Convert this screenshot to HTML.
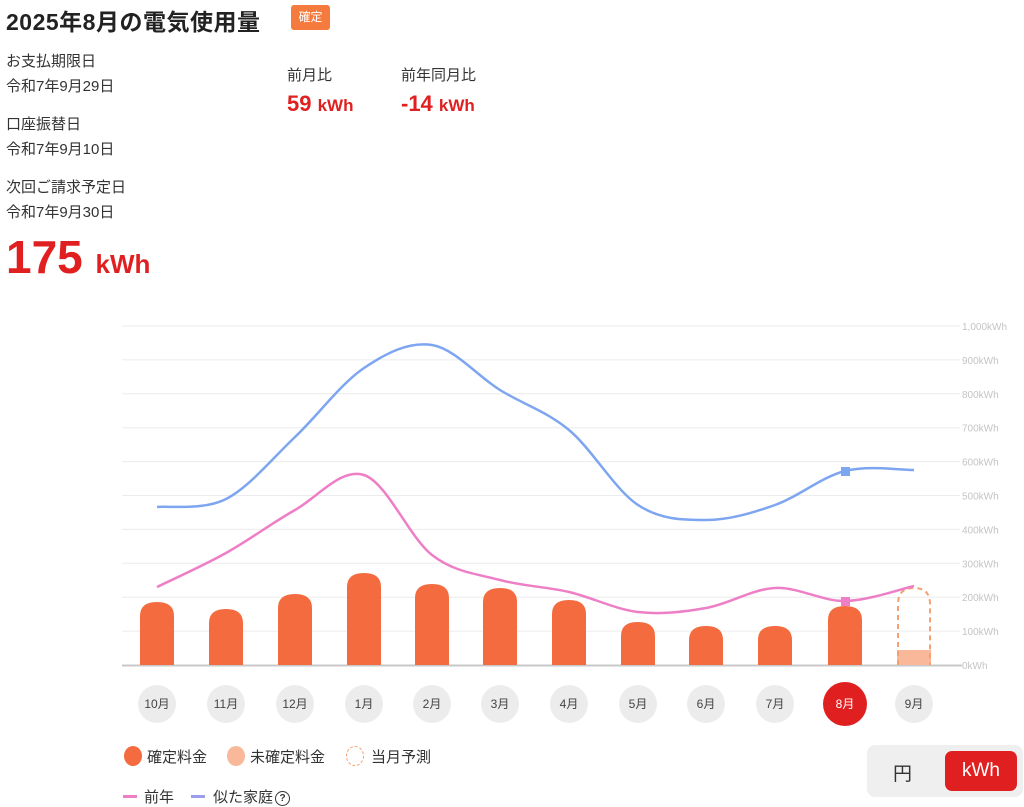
<!DOCTYPE html>
<html><head><meta charset="utf-8"><style>
body{margin:0;width:1024px;height:807px;background:#fff;font-family:"Liberation Sans","Noto Sans CJK JP",sans-serif;color:#333;position:relative;overflow:hidden}
.a{position:absolute;white-space:nowrap}
.s{font-size:15px;color:#333}
.red{color:#e02020;font-weight:bold}
</style></head><body>
<div class="a" style="left:6px;top:3px;font-size:23px;font-weight:bold;color:#222;letter-spacing:0.5px">2025年8月の電気使用量</div>
<div class="a" style="left:291px;top:5px;width:39px;height:25px;background:#f47a3e;border-radius:3px;color:#fff;font-size:12px;line-height:25px;text-align:center">確定</div>
<div class="a s" style="left:6px;top:50px">お支払期限日</div>
<div class="a s" style="left:6px;top:75px">令和7年9月29日</div>
<div class="a s" style="left:6px;top:113px">口座振替日</div>
<div class="a s" style="left:6px;top:138px">令和7年9月10日</div>
<div class="a s" style="left:6px;top:176px">次回ご請求予定日</div>
<div class="a s" style="left:6px;top:201px">令和7年9月30日</div>
<div class="a red" style="left:6px;top:230px;font-size:46px">175 <span style="font-size:26px">kWh</span></div>
<div class="a s" style="left:287px;top:64px">前月比</div>
<div class="a s" style="left:401px;top:64px">前年同月比</div>
<div class="a red" style="left:287px;top:91px;font-size:22px">59 <span style="font-size:17px">kWh</span></div>
<div class="a red" style="left:401px;top:91px;font-size:22px">-14 <span style="font-size:17px">kWh</span></div>

<svg class="a" style="left:0;top:0" width="1024" height="807" id="c">
<g id="grid" stroke="#ececec" stroke-width="1"></g>
<g id="lab" font-size="10" fill="#c4c4c4" font-family="Liberation Sans,sans-serif"></g>
<line x1="122" y1="665.5" x2="962" y2="665.5" stroke="#c8c8c8" stroke-width="2"/>
<g id="bars"></g>
<path id="blue" fill="none" stroke="#7ea6f0" stroke-width="2.5"/>
<path id="pink" fill="none" stroke="#ee7fc6" stroke-width="2.5"/>
<rect x="841" y="467" width="9" height="9" fill="#7ea6f0"/>
<rect x="841" y="597" width="9" height="9" fill="#ee7fc6"/>
<g id="mon" font-size="12" font-family="Liberation Sans,'Noto Sans CJK JP',sans-serif"></g>
</svg>

<div class="a" style="left:124px;top:746px;width:18px;height:20px;border-radius:50%;background:#f36b3f"></div>
<div class="a s" style="left:147px;top:746px">確定料金</div>
<div class="a" style="left:227px;top:746px;width:18px;height:20px;border-radius:50%;background:#f8b899"></div>
<div class="a s" style="left:250px;top:746px">未確定料金</div>
<div class="a" style="left:346px;top:746px;width:16px;height:18px;border-radius:50%;border:1px dashed #f4a070"></div>
<div class="a s" style="left:371px;top:746px">当月予測</div>
<div class="a" style="left:123px;top:795px;width:14px;height:3px;background:#ee7fc6"></div>
<div class="a s" style="left:144px;top:786px">前年</div>
<div class="a" style="left:191px;top:795px;width:14px;height:3px;background:#9d9df0"></div>
<div class="a s" style="left:213px;top:786px">似た家庭<span style="display:inline-block;width:13px;height:13px;border:1.5px solid #333;border-radius:50%;font-size:10px;line-height:13px;text-align:center;font-weight:bold;vertical-align:1px;margin-left:2px">?</span></div>
<div class="a" style="left:867px;top:745px;width:156px;height:52px;background:#efefef;border-radius:8px"></div>
<div class="a" style="left:893px;top:759px;font-size:19px;color:#333">円</div>
<div class="a" style="left:945px;top:751px;width:72px;height:40px;background:#e02020;border-radius:7px;color:#fff;font-size:19px;line-height:40px;text-align:center">kWh</div>

<script>
var ns="http://www.w3.org/2000/svg";
function el(p,t,a,txt){var e=document.createElementNS(ns,t);for(var k in a)e.setAttribute(k,a[k]);if(txt)e.textContent=txt;document.getElementById(p).appendChild(e);}
for(var i=1;i<=10;i++){var y=665-i*33.9;el("grid","line",{x1:122,x2:960,y1:y,y2:y});
el("lab","text",{x:962,y:y+4},(i==10?"1,000":i*100)+"kWh");}
el("lab","text",{x:962,y:669},"0kWh");
var xs=[157,226,295,364,432,500,569,638,706,775,845,914];
var tops=[602,609,594,573,584,588,600,622,626,626,606];
for(var i=0;i<11;i++){var x=xs[i]-17,t=tops[i];
el("bars","path",{d:"M"+x+" 665V"+(t+14)+"Q"+x+" "+t+" "+(x+17)+" "+t+"Q"+(x+34)+" "+t+" "+(x+34)+" "+(t+14)+"V665Z",fill:"#f36b3f"});}
el("bars","rect",{x:897,y:650,width:34,height:15,fill:"#f8b899"});
el("bars","path",{d:"M898 665V604Q898 588 914 588Q930 588 930 604V665",fill:"none",stroke:"#f4a070","stroke-width":2,"stroke-dasharray":"5,4"});
function sp(pts){var d="M"+pts[0][0]+" "+pts[0][1];for(var i=0;i<pts.length-1;i++){var p0=pts[i-1]||pts[i],p1=pts[i],p2=pts[i+1],p3=pts[i+2]||p2;
d+="C"+(p1[0]+(p2[0]-p0[0])/6)+" "+(p1[1]+(p2[1]-p0[1])/6)+" "+(p2[0]-(p3[0]-p1[0])/6)+" "+(p2[1]-(p3[1]-p1[1])/6)+" "+p2[0]+" "+p2[1];}return d;}
var b=[507,499,437,368,345,390,430,505,520,505,471,470],p=[587,553,510,475,555,580,592,612,608,588,601,586];
document.getElementById("blue").setAttribute("d",sp(xs.map(function(x,i){return[x,b[i]]})));
document.getElementById("pink").setAttribute("d",sp(xs.map(function(x,i){return[x,p[i]]})));
var ms=["10月","11月","12月","1月","2月","3月","4月","5月","6月","7月","8月","9月"];
for(var i=0;i<12;i++){var sel=i==10;el("mon","circle",{cx:xs[i],cy:704,r:sel?22:19,fill:sel?"#e02020":"#ececec"});
el("mon","text",{x:xs[i],y:708,"text-anchor":"middle",fill:sel?"#fff":"#444"},ms[i]);}
</script>
</body></html>
